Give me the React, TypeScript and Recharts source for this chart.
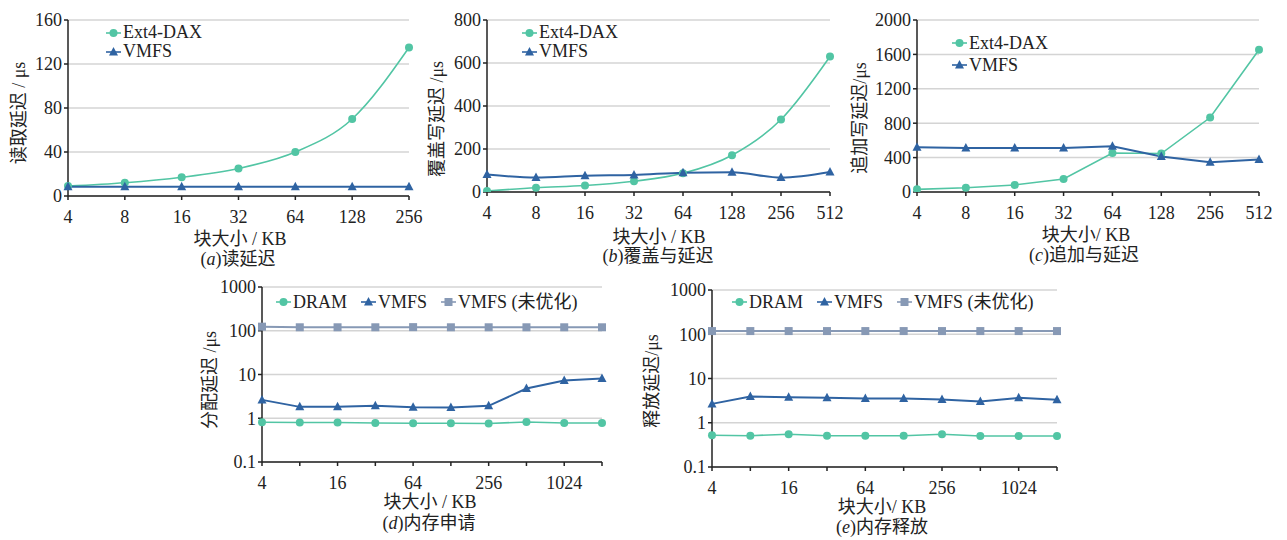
import { CartesianGrid, Legend, Line, LineChart, XAxis, YAxis } from 'recharts'

// Five latency panels: Ext4-DAX vs VMFS file ops (top row, linear µs) and
// DRAM vs VMFS allocator (bottom row, log µs). Serif digits, CJK fallback.

const FONT = '"Liberation Serif", "Noto Sans CJK SC", serif'
const TEAL = '#52c5a4'
const BLUE = '#2f63a2'
const GRAY = '#8799b5'
const AXIS = '#222222'
const GRID = '#d4d4d4'
const TEXT = '#222222'

// block sizes, KB
const sizes7 = ['4', '8', '16', '32', '64', '128', '256']
const sizes8 = ['4', '8', '16', '32', '64', '128', '256', '512']
const sizes10 = ['4', '8', '16', '32', '64', '128', '256', '512', '1024', '2048']

// (a) read latency, µs
const readExt4 = [9, 12, 17, 25, 40, 70, 135]
const readVmfs = [8.5, 8.5, 8.5, 8.5, 8.5, 8.5, 8.5]
// (b) overwrite latency, µs
const overwriteExt4 = [5, 20, 30, 50, 87, 171, 337, 630]
const overwriteVmfs = [81, 67, 76, 79, 90, 92, 67, 93]
// (c) append latency, µs
const appendExt4 = [31, 50, 82, 151, 454, 447, 866, 1654]
const appendVmfs = [520, 513, 513, 513, 532, 412, 346, 377]
// (d) allocation latency, µs
const allocDram = [0.81, 0.8, 0.8, 0.78, 0.77, 0.77, 0.76, 0.82, 0.78, 0.78]
const allocVmfs = [2.63, 1.82, 1.82, 1.92, 1.79, 1.75, 1.92, 4.78, 7.29, 8.1]
const allocRaw = [124, 120, 120, 120, 121, 120, 120, 120, 120, 120]
// (e) free latency, µs
const freeDram = [0.52, 0.51, 0.55, 0.51, 0.51, 0.51, 0.55, 0.5, 0.5, 0.5]
const freeVmfs = [2.67, 3.91, 3.78, 3.65, 3.53, 3.53, 3.35, 3.02, 3.65, 3.29]
const freeRaw = [118, 118, 118, 118, 118, 118, 118, 118, 118, 118]

const ticksRead = [0, 40, 80, 120, 160]
const ticksOverwrite = [0, 200, 400, 600, 800]
const ticksAppend = [0, 400, 800, 1200, 1600, 2000]
const ticksLog = [0.1, 1, 10, 100, 1000]

type Shape = 'circle' | 'triangle' | 'square'
type Series = { key: string; name: string; color: string; shape: Shape; values: number[] }
type Rect = { x: number; y: number; w: number; h: number }

function Marker({ cx, cy, color, shape }: { cx: number; cy: number; color: string; shape: Shape }) {
  if (shape === 'circle') return <circle cx={cx} cy={cy} r={4} fill={color} />
  if (shape === 'triangle')
    return (
      <polygon
        points={`${cx},${cy - 5} ${cx + 4.5},${cy + 3.5} ${cx - 4.5},${cy + 3.5}`}
        fill={color}
      />
    )
  return <rect x={cx - 4} y={cy - 4} width={8} height={8} fill={color} />
}

function LegendBox({
  series,
  vertical,
  rowH,
  itemGap,
}: {
  series: Series[]
  vertical: boolean
  rowH: number
  itemGap: number
}) {
  return (
    <div
      style={{
        display: 'flex',
        flexDirection: vertical ? 'column' : 'row',
        columnGap: itemGap,
        fontFamily: FONT,
        fontSize: 18,
        color: TEXT,
        lineHeight: `${rowH}px`,
        whiteSpace: 'nowrap',
      }}
    >
      {series.map((s) => (
        <div key={s.key} style={{ display: 'flex', alignItems: 'center', height: rowH }}>
          <svg width={15} height={10} style={{ marginRight: 2 }}>
            <line x1={0} y1={5} x2={15} y2={5} stroke={s.color} strokeWidth={1.6} />
            <Marker cx={7.5} cy={5} color={s.color} shape={s.shape} />
          </svg>
          <span>{s.name}</span>
        </div>
      ))}
    </div>
  )
}

function Panel({
  plot,
  sizes,
  series,
  ticks,
  log,
  curve,
  legendAt,
  vertical,
  rowH,
  itemGap,
}: {
  plot: Rect
  sizes: string[]
  series: Series[]
  ticks: number[]
  log?: boolean
  curve: 'linear' | 'monotone'
  legendAt: { x: number; y: number }
  vertical: boolean
  rowH: number
  itemGap: number
}) {
  const left = plot.x - 60
  const top = plot.y - 20
  const width = plot.w + 80
  const height = plot.h + 60
  const rows = sizes.map((kb, i) => {
    const row: Record<string, string | number> = { kb }
    series.forEach((s) => {
      row[s.key] = s.values[i]
    })
    return row
  })
  return (
    <div style={{ position: 'absolute', left, top, width, height }}>
      <LineChart
        width={width}
        height={height}
        data={rows}
        margin={{ top: 20, right: 20, bottom: 10, left: 0 }}
      >
        <CartesianGrid stroke={GRID} strokeWidth={1.5} vertical={false} />
        <XAxis
          dataKey="kb"
          height={30}
          interval={0}
          tickFormatter={(v: string, i: number) => (log && i % 2 === 1 ? '' : v)}
          tick={{ fill: TEXT, fontSize: 18, fontFamily: FONT }}
          tickSize={4}
          tickMargin={10}
          tickLine={{ stroke: AXIS, strokeWidth: 1.5 }}
          axisLine={{ stroke: AXIS, strokeWidth: 1.5 }}
        />
        <YAxis
          width={60}
          type="number"
          scale={log ? 'log' : 'auto'}
          domain={[ticks[0], ticks[ticks.length - 1]]}
          ticks={ticks}
          interval={0}
          allowDataOverflow
          tick={{ fill: TEXT, fontSize: 18, fontFamily: FONT }}
          tickSize={4}
          tickMargin={2}
          tickLine={{ stroke: AXIS, strokeWidth: 1.5 }}
          axisLine={{ stroke: AXIS, strokeWidth: 1.5 }}
        />
        <Legend
          layout="horizontal"
          verticalAlign="middle"
          align="center"
          wrapperStyle={{ left: legendAt.x - left, top: legendAt.y - top, width: 'auto' }}
          content={() => (
            <LegendBox series={series} vertical={vertical} rowH={rowH} itemGap={itemGap} />
          )}
        />
        {series.map((s) => (
          <Line
            key={s.key}
            dataKey={s.key}
            name={s.name}
            type={curve}
            stroke={s.color}
            strokeWidth={s.shape === 'circle' ? 1.6 : 2}
            isAnimationActive={false}
            activeDot={false}
            dot={(p: any) => (
              <Marker key={`${s.key}-${p.index}`} cx={p.cx} cy={p.cy} color={s.color} shape={s.shape} />
            )}
          />
        ))}
      </LineChart>
    </div>
  )
}

function Caption({ x, y, children, rotate }: { x: number; y: number; children: any; rotate?: boolean }) {
  return (
    <div
      style={{
        position: 'absolute',
        left: x,
        top: y,
        transform: `translate(-50%, -50%)${rotate ? ' rotate(-90deg)' : ''}`,
        fontFamily: FONT,
        fontSize: 18,
        color: TEXT,
        whiteSpace: 'nowrap',
        lineHeight: '20px',
      }}
    >
      {children}
    </div>
  )
}

const fileSeries = (ext4: number[], vmfs: number[]): Series[] => [
  { key: 'ext4', name: 'Ext4-DAX', color: TEAL, shape: 'circle', values: ext4 },
  { key: 'vmfs', name: 'VMFS', color: BLUE, shape: 'triangle', values: vmfs },
]

const memSeries = (dram: number[], vmfs: number[], raw: number[]): Series[] => [
  { key: 'dram', name: 'DRAM', color: TEAL, shape: 'circle', values: dram },
  { key: 'vmfs', name: 'VMFS', color: BLUE, shape: 'triangle', values: vmfs },
  { key: 'raw', name: 'VMFS (未优化)', color: GRAY, shape: 'square', values: raw },
]

export default function App() {
  return (
    <div
      style={{
        position: 'absolute',
        left: 0,
        top: 0,
        width: 1287,
        height: 540,
        background: '#ffffff',
        overflow: 'hidden',
      }}
    >
      <Panel
        plot={{ x: 68, y: 20, w: 341, h: 176 }}
        sizes={sizes7}
        series={fileSeries(readExt4, readVmfs)}
        ticks={ticksRead}
        curve="monotone"
        legendAt={{ x: 106, y: 23 }}
        vertical
        rowH={19}
        itemGap={0}
      />
      <Panel
        plot={{ x: 487, y: 20, w: 343, h: 172 }}
        sizes={sizes8}
        series={fileSeries(overwriteExt4, overwriteVmfs)}
        ticks={ticksOverwrite}
        curve="monotone"
        legendAt={{ x: 522, y: 23 }}
        vertical
        rowH={19}
        itemGap={0}
      />
      <Panel
        plot={{ x: 917, y: 20, w: 342, h: 172 }}
        sizes={sizes8}
        series={fileSeries(appendExt4, appendVmfs)}
        ticks={ticksAppend}
        curve="linear"
        legendAt={{ x: 952, y: 32 }}
        vertical
        rowH={22}
        itemGap={0}
      />
      <Panel
        plot={{ x: 262, y: 287, w: 340, h: 175 }}
        sizes={sizes10}
        series={memSeries(allocDram, allocVmfs, allocRaw)}
        ticks={ticksLog}
        log
        curve="linear"
        legendAt={{ x: 276, y: 291 }}
        vertical={false}
        rowH={22}
        itemGap={14}
      />
      <Panel
        plot={{ x: 712, y: 290, w: 345, h: 177 }}
        sizes={sizes10}
        series={memSeries(freeDram, freeVmfs, freeRaw)}
        ticks={ticksLog}
        log
        curve="linear"
        legendAt={{ x: 732, y: 291 }}
        vertical={false}
        rowH={22}
        itemGap={14}
      />

      <Caption x={19} y={113} rotate>读取延迟 / μs</Caption>
      <Caption x={437} y={119} rotate>覆盖写延迟 /μs</Caption>
      <Caption x={860} y={118} rotate>追加写延迟/μs</Caption>
      <Caption x={210} y={380} rotate>分配延迟 /μs</Caption>
      <Caption x={652} y={381} rotate>释放延迟/μs</Caption>

      <Caption x={240} y={239}>块大小 / KB</Caption>
      <Caption x={659} y={237}>块大小 / KB</Caption>
      <Caption x={1086} y={235}>块大小/ KB</Caption>
      <Caption x={430} y={502}>块大小 / KB</Caption>
      <Caption x={882} y={507}>块大小/ KB</Caption>

      <Caption x={238} y={259}>(<i>a</i>)读延迟</Caption>
      <Caption x={658} y={256}>(<i>b</i>)覆盖与延迟</Caption>
      <Caption x={1084} y={255}>(<i>c</i>)追加与延迟</Caption>
      <Caption x={429} y={523}>(<i>d</i>)内存申请</Caption>
      <Caption x={882} y={527}>(<i>e</i>)内存释放</Caption>
    </div>
  )
}
